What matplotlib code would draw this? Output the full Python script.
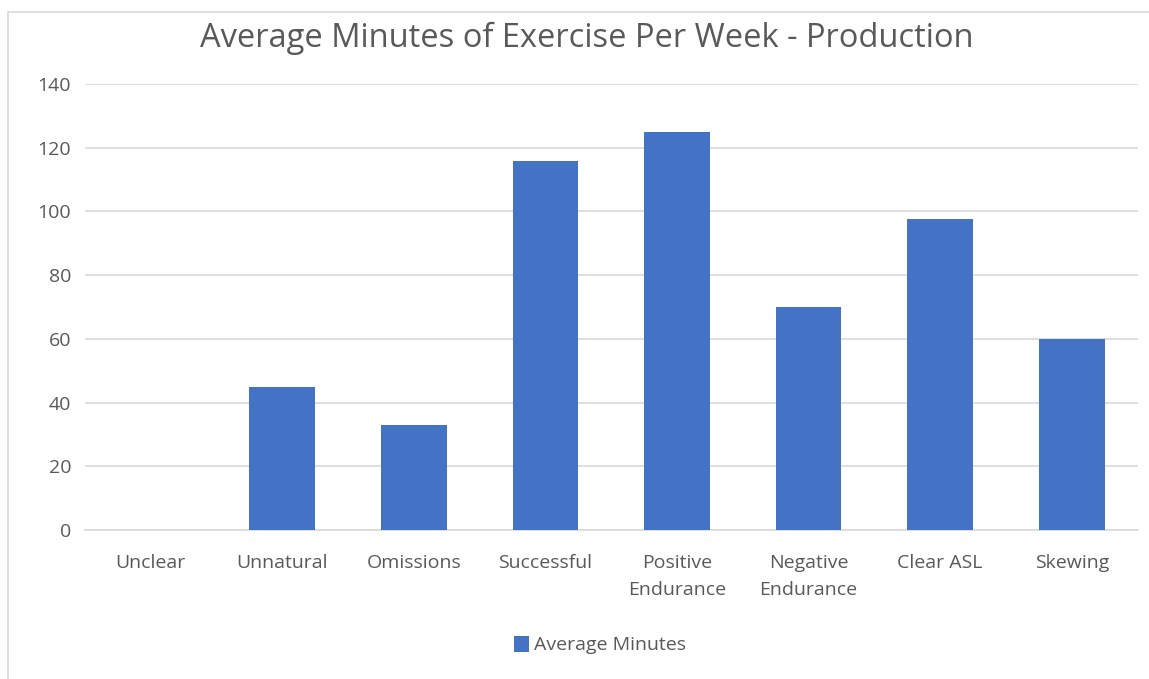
import matplotlib.pyplot as plt
import numpy as np
from matplotlib.patches import Rectangle

categories = ['Unclear', 'Unnatural', 'Omissions', 'Successful',
              'Positive\nEndurance', 'Negative\nEndurance', 'Clear ASL', 'Skewing']
avg_minutes = [0, 45, 33, 116, 125, 70, 97.5, 60]
y_ticks = [0, 20, 40, 60, 80, 100, 120, 140]

plt.rcParams['font.family'] = ['Open Sans', 'DejaVu Sans']
grey = '#595959'
blue = '#4472C4'

fig = plt.figure(figsize=(11.49, 6.79), dpi=100)
ax = fig.add_axes([0.074, 0.2194, 0.916, 0.6568])

# chart border (cropped excel frame)
fig.patches.append(Rectangle((8/1149, -0.1), 1.2, 1 - 12/679 + 0.1, transform=fig.transFigure,
                             fill=False, edgecolor='#d9d9d9', linewidth=1.2))

x = np.arange(len(categories))
ax.bar(x, avg_minutes, width=0.5, color=blue, label='Average Minutes', zorder=3)

ax.set_xlim(-0.5, len(categories) - 0.5)
ax.set_ylim(0, 140)
ax.set_yticks(y_ticks)
ax.set_xticks(x)
ax.set_xticklabels(categories, fontsize=14, color=grey, linespacing=1.7)
ax.tick_params(axis='y', labelsize=14, labelcolor=grey, length=0, pad=10)
ax.tick_params(axis='x', length=0, pad=17)
ax.grid(axis='y', color='#d9d9d9', linewidth=1.2, zorder=0)
for s in ['top', 'right', 'left']:
    ax.spines[s].set_visible(False)
ax.spines['bottom'].set_color('#d9d9d9')
ax.spines['bottom'].set_linewidth(1.2)

fig.text(0.511, 0.944, 'Average Minutes of Exercise Per Week - Production',
         ha='center', va='center', fontsize=23.5, color=grey)

fig.legend(loc='center', bbox_to_anchor=(0.522, 0.05), frameon=False,
           fontsize=14, labelcolor=grey, handlelength=0.8, handleheight=0.9,
           handletextpad=0.25)

fig.savefig('out.png', dpi=100)
